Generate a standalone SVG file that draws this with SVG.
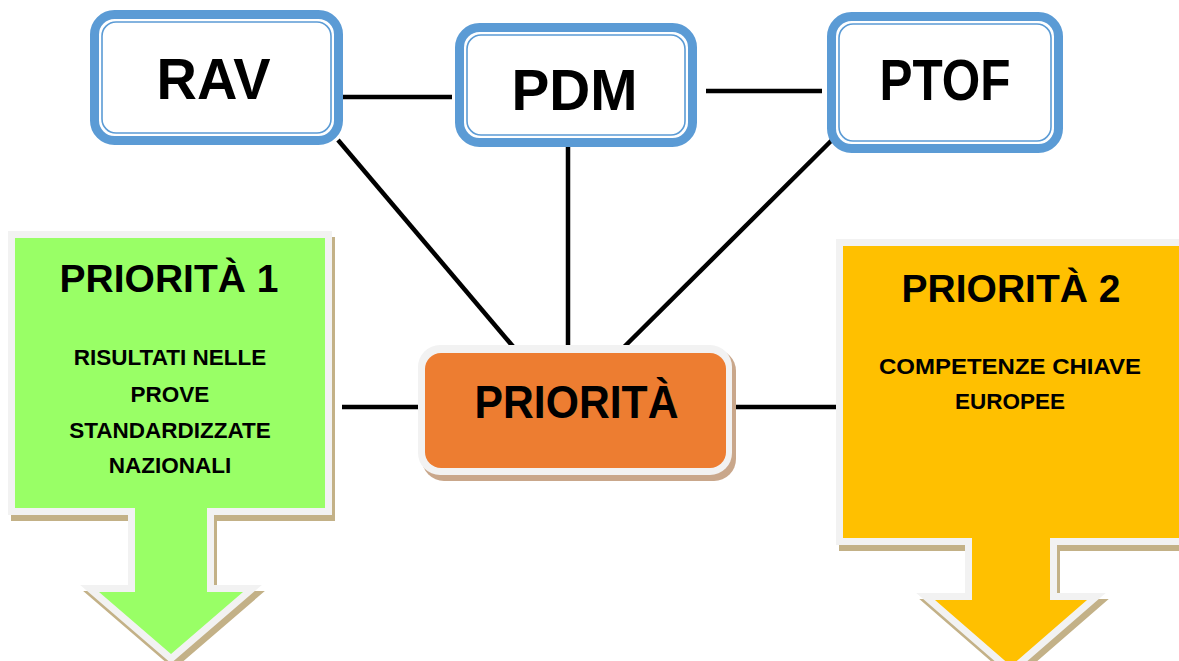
<svg xmlns="http://www.w3.org/2000/svg" width="1179" height="661" viewBox="0 0 1179 661">
<style>
text{font-family:"Liberation Sans",Arial,sans-serif;font-weight:bold;fill:#000;text-anchor:middle}
.outer{fill:#fff;stroke:#5b9bd5;stroke-width:9}
.inner{fill:none;stroke:#5b9bd5;stroke-width:1.6}
.lbl{font-size:57px}
.conn line{stroke:#000;stroke-width:4.5}
.callshadow{fill:#c3b187;stroke:#c3b187;stroke-width:14;stroke-linejoin:miter}
.callborder{stroke:#f2f2f2;stroke-width:14;stroke-linejoin:miter;paint-order:stroke}
.ptitle{font-size:39px}
.psub{font-size:22.5px}
</style>
<rect width="1179" height="661" fill="#fff"/>
<g id="connectors" class="conn">
<line x1="341" y1="97" x2="452" y2="97"/>
<line x1="706" y1="91" x2="822" y2="91"/>
<line x1="338" y1="140" x2="516" y2="350"/>
<line x1="568" y1="140" x2="568" y2="350"/>
<line x1="832" y1="140" x2="621" y2="350"/>
<line x1="342" y1="407" x2="420" y2="407"/>
<line x1="731" y1="407" x2="838" y2="407"/>
</g>
<g id="rav">
<rect class="outer" x="94.5" y="14.5" width="244" height="126" rx="20"/>
<rect class="inner" x="102" y="22" width="229" height="111" rx="14"/>
<text class="lbl" x="213.5" y="99" textLength="114" lengthAdjust="spacingAndGlyphs">RAV</text>
</g>
<g id="pdm">
<rect class="outer" x="459.5" y="27.5" width="233" height="115" rx="20"/>
<rect class="inner" x="467" y="35" width="218" height="100" rx="14"/>
<text class="lbl" x="574.5" y="110" textLength="126" lengthAdjust="spacingAndGlyphs">PDM</text>
</g>
<g id="ptof">
<rect class="outer" x="831.5" y="16.5" width="227" height="132" rx="20"/>
<rect class="inner" x="839" y="24" width="212" height="117" rx="14"/>
<text class="lbl" x="945" y="100" textLength="131" lengthAdjust="spacingAndGlyphs">PTOF</text>
</g>
<g id="priorita">
<rect x="422" y="349" width="314" height="132" rx="22" fill="#c9a78b"/>
<rect x="418" y="345" width="314" height="130" rx="22" fill="#f2f2f2"/>
<rect x="425" y="353" width="301" height="115" rx="16" fill="#ed7d31"/>
<text x="576.5" y="418" font-size="46" textLength="204" lengthAdjust="spacingAndGlyphs">PRIORITÀ</text>
</g>
<g id="priorita1">
<polygon class="callshadow" transform="translate(3,6)" points="15,238 325,238 325,508 207,508 207,592 243,592 171,654 99,592 135,592 135,508 15,508"/>
<polygon class="callborder" fill="#99ff66" points="15,238 325,238 325,508 207,508 207,592 243,592 171,654 99,592 135,592 135,508 15,508"/>
<text class="ptitle" x="169" y="292">PRIORITÀ 1</text>
<text class="psub" x="170" y="365">RISULTATI NELLE</text>
<text class="psub" x="170" y="402">PROVE</text>
<text class="psub" x="170" y="438">STANDARDIZZATE</text>
<text class="psub" x="170" y="473">NAZIONALI</text>
</g>
<g id="priorita2">
<polygon class="callshadow" transform="translate(3,6)" points="843,246 1190,246 1190,538 1050,538 1050,600 1087,600 1011,666 935,600 972,600 972,538 843,538"/>
<polygon class="callborder" fill="#ffc000" points="843,246 1190,246 1190,538 1050,538 1050,600 1087,600 1011,666 935,600 972,600 972,538 843,538"/>
<text class="ptitle" x="1011" y="302">PRIORITÀ 2</text>
<text class="psub" x="1010" y="374" textLength="262" lengthAdjust="spacingAndGlyphs">COMPETENZE CHIAVE</text>
<text class="psub" x="1010" y="409">EUROPEE</text>
</g>
</svg>
